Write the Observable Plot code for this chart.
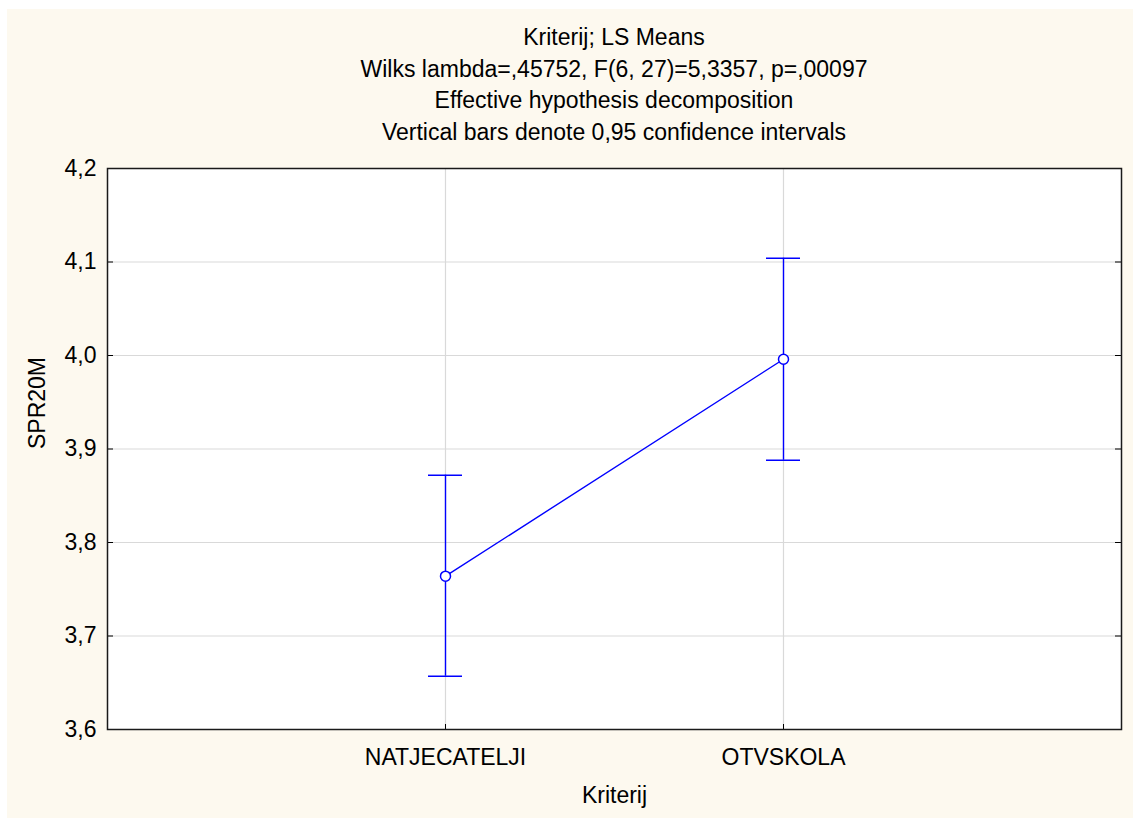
<!DOCTYPE html>
<html>
<head>
<meta charset="utf-8">
<script src="https://cdn.jsdelivr.net/npm/d3@7"></script>
<script src="https://cdn.jsdelivr.net/npm/@observablehq/plot@0.6"></script>
<style>
  html, body { margin: 0; padding: 0; background: #ffffff; }
  #wrap {
    position: absolute; left: 7px; top: 9px; width: 1126px; height: 809px;
    background: #fdf9ef; font-family: "Liberation Sans", Arial, sans-serif; color: #000;
  }
  #title {
    box-sizing: border-box; height: 141px; padding: 13px 12px 0 100px;
    text-align: center; font-size: 23px; line-height: 31.5px;
  }
</style>
</head>
<body>
<div id="wrap"><div id="title"></div><div id="chart"></div></div>
<script>
const titleLines = [
  "Kriterij; LS Means",
  "Wilks lambda=,45752, F(6, 27)=5,3357, p=,00097",
  "Effective hypothesis decomposition",
  "Vertical bars denote 0,95 confidence intervals"
];
const categories = ["NATJECATELJI", "OTVSKOLA"];
const means = [3.764, 3.996];
const lower = [3.657, 3.888];
const upper = [3.872, 4.104];
const yTicks = [3.6, 3.7, 3.8, 3.9, 4.0, 4.1, 4.2];
const xLabel = "Kriterij";
const yLabel = "SPR20M";

document.getElementById("title").innerHTML = titleLines.map(t => `<div>${t}</div>`).join("");

const data = categories.map((c, i) => ({cat: c, mean: means[i], lo: lower[i], hi: upper[i]}));

const W = 1126, H = 668, mL = 100, mR = 12, mT = 18, mB = 89;
const plotW = W - mL - mR, plotH = H - mT - mB;
const blue = "#0000ff";
const fmt = d => d.toFixed(1).replace(".", ",");

const chart = Plot.plot({
  width: W, height: H,
  marginLeft: mL, marginRight: mR, marginTop: mT, marginBottom: mB,
  style: {fontFamily: "'Liberation Sans', Arial, sans-serif", fontSize: "23px", background: "transparent", color: "#000", overflow: "visible"},
  x: {type: "point", domain: categories, padding: 1, label: null},
  y: {domain: [3.6, 4.2], label: null},
  marks: [
    Plot.frame({fill: "#ffffff", stroke: "none"}),
    Plot.gridY(yTicks, {stroke: "#d9d9d9", strokeOpacity: 1, strokeWidth: 1.2}),
    Plot.gridX(categories, {stroke: "#d9d9d9", strokeOpacity: 1, strokeWidth: 1.2}),
    Plot.tickY(yTicks, {y: d => d, stroke: "#000", insetRight: plotW - 6}),
    Plot.tickY(yTicks, {y: d => d, stroke: "#000", insetLeft: plotW - 6}),
    Plot.tickX(categories, {x: d => d, stroke: "#000", insetTop: plotH - 5}),
    Plot.axisY(yTicks, {tickSize: 0, tickPadding: 11, tickFormat: fmt, label: null}),
    Plot.axisX(categories, {tickSize: 0, tickPadding: 19, label: null}),
    Plot.text([yLabel], {frameAnchor: "left", dx: -70, rotate: -90, text: d => d}),
    Plot.text([xLabel], {frameAnchor: "bottom", dy: 73, text: d => d}),
    Plot.ruleX(data, {x: "cat", y1: "lo", y2: "hi", stroke: blue, strokeWidth: 1.4}),
    Plot.ruleY(data, {x1: "cat", x2: "cat", y: "hi", stroke: blue, strokeWidth: 1.4, insetLeft: -17, insetRight: -17}),
    Plot.ruleY(data, {x1: "cat", x2: "cat", y: "lo", stroke: blue, strokeWidth: 1.4, insetLeft: -17, insetRight: -17}),
    Plot.line(data, {x: "cat", y: "mean", stroke: blue, strokeWidth: 1.4}),
    Plot.dot(data, {x: "cat", y: "mean", r: 5, stroke: blue, fill: "#ffffff", strokeWidth: 1.5}),
    Plot.frame({stroke: "#1a1a1a", strokeWidth: 1.5})
  ]
});
document.getElementById("chart").appendChild(chart);
</script>
</body>
</html>
